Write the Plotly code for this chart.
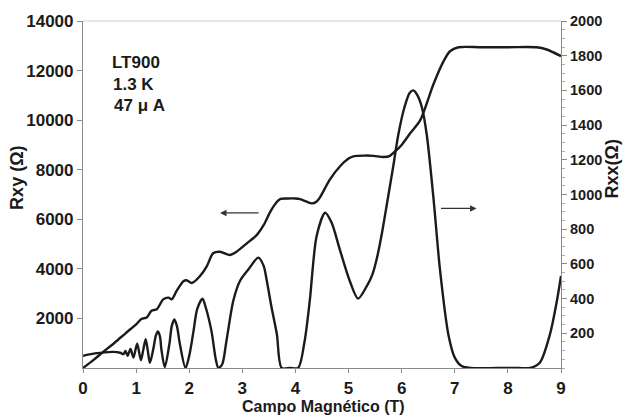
import plotly.graph_objects as go

# Hall resistance Rxy (left axis)
b_xy = [0, 0.2, 0.38, 0.6, 0.8, 1.01, 1.10, 1.2, 1.29, 1.39, 1.51, 1.61, 1.67, 1.76, 1.89,
        1.95, 2.05, 2.2, 2.33, 2.45, 2.58, 2.77, 2.89, 3.08, 3.27, 3.40, 3.52, 3.62, 3.72,
        3.85, 4.0, 4.09, 4.2, 4.31, 4.4, 4.46, 4.65, 4.84, 5.0, 5.09, 5.3, 5.47, 5.66,
        5.78, 5.84, 6.0, 6.16, 6.35, 6.6, 6.79, 6.91, 7.07, 7.5, 8.0, 8.54, 8.73, 9.0]
r_xy = [0, 330, 650, 1030, 1400, 1780, 1980, 2040, 2310, 2370, 2770, 2840, 2770, 3100, 3500,
        3540, 3430, 3700, 4100, 4630, 4690, 4560, 4690, 5020, 5360, 5760, 6280, 6620, 6820,
        6840, 6840, 6810, 6720, 6640, 6720, 6880, 7610, 8140, 8450, 8540, 8570, 8560, 8510,
        8560, 8670, 9000, 9470, 10000, 11460, 12380, 12780, 12940, 12940, 12940, 12940, 12850, 12580]

# Longitudinal resistance Rxx (right axis)
b_xx = [0, 0.15, 0.32, 0.57, 0.70, 0.76, 0.80, 0.84, 0.895, 0.95, 1.02, 1.09, 1.135, 1.18,
        1.22, 1.26, 1.33, 1.37, 1.41, 1.45, 1.475, 1.54, 1.63, 1.67, 1.72, 1.77, 1.82, 1.93,
        2.00, 2.08, 2.15, 2.25, 2.31, 2.42, 2.50, 2.55, 2.62, 2.70, 2.83, 2.96, 3.12, 3.30,
        3.40, 3.46, 3.55, 3.65, 3.74, 3.90, 4.05, 4.17, 4.27, 4.40, 4.56, 4.68, 4.84, 5.03,
        5.18, 5.34, 5.45, 5.53, 5.63, 5.73, 5.84, 5.94, 6.05, 6.15, 6.22, 6.30, 6.38, 6.47,
        6.60, 6.72, 6.88, 7.00, 7.13, 7.30, 7.80, 8.20, 8.42, 8.60, 8.79, 8.92, 9.0]
r_xx = [70, 80, 87, 93, 88, 80, 98, 70, 110, 60, 140, 45, 105, 166,
        100, 30, 120, 185, 211, 180, 110, 5, 145, 240, 280, 240, 145, 0,
        70, 211, 340, 400, 350, 211, 50, 0, 20, 154, 388, 504, 570, 636,
        590, 504, 350, 195, 0, 0, 0, 150, 388, 762, 895, 838, 678, 496,
        400, 470, 540, 628, 780, 960, 1160, 1350, 1500, 1585, 1600, 1570, 1503, 1350,
        975, 571, 192, 60, 11, 0, 0, 0, 0, 30, 192, 382, 530]

x_ticks = list(range(0, 10))
xy_ticks = [2000, 4000, 6000, 8000, 10000, 12000, 14000]
xx_ticks = [200, 400, 600, 800, 1000, 1200, 1400, 1600, 1800, 2000]

FONT = "Liberation Sans, Arial, sans-serif"
INK = "#1b1b1b"
AX = "#8a8a8a"

fig = go.Figure()
fig.add_trace(go.Scatter(x=b_xy, y=r_xy, mode="lines", yaxis="y",
                         line=dict(color=INK, width=2.4, shape="spline", smoothing=0.8),
                         showlegend=False, hoverinfo="skip"))
fig.add_trace(go.Scatter(x=b_xx, y=r_xx, mode="lines", yaxis="y2",
                         line=dict(color=INK, width=2.4, shape="spline", smoothing=0.8),
                         showlegend=False, hoverinfo="skip"))

tf_big = dict(size=17, family=FONT, color=INK, weight="bold")
tf_small = dict(size=14.5, family=FONT, color=INK, weight="bold")

fig.update_layout(
    width=623, height=418,
    margin=dict(l=83, r=62, t=16, b=50),
    paper_bgcolor="white", plot_bgcolor="white",
    font=dict(family=FONT, color=INK),
    xaxis=dict(range=[0, 9], tickvals=x_ticks, ticktext=[str(v) for v in x_ticks],
               ticks="outside", ticklen=4, tickcolor=AX,
               showline=True, linecolor=AX, linewidth=1.2, showgrid=False, zeroline=False,
               tickfont=tf_big),
    yaxis=dict(range=[0, 14000], tickvals=xy_ticks, ticktext=[str(v) for v in xy_ticks],
               ticks="outside", ticklen=5, tickcolor=AX,
               showline=True, linecolor=AX, linewidth=1.2, showgrid=False, zeroline=False,
               tickfont=tf_big),
    yaxis2=dict(range=[0, 2000], tickvals=xx_ticks, ticktext=[str(v) for v in xx_ticks],
                overlaying="y", side="right",
                ticks="outside", ticklen=5, tickcolor=AX,
                minor=dict(dtick=50, ticks="outside", ticklen=3, tickcolor="#aaaaaa"),
                showline=True, linecolor=AX, linewidth=1.2, showgrid=False, zeroline=False,
                tickfont=tf_small),
)

# top border
fig.add_shape(type="line", xref="paper", yref="paper", x0=0, x1=1, y0=1, y1=1,
              line=dict(color="#cfcfcf", width=1))

ann_font = dict(size=17, family=FONT, color=INK, weight="bold")
for txt, xp, yp in [("LT900", 0.0565, 0.881), ("1.3 K", 0.0586, 0.818), ("47 μ A", 0.0607, 0.756)]:
    fig.add_annotation(text=txt, xref="paper", yref="paper", x=xp, y=yp,
                       xanchor="left", yanchor="middle", showarrow=False, font=ann_font)

# axis titles
title_font = dict(size=18, family=FONT, color=INK, weight="bold")
fig.add_annotation(text="Rxy (Ω)", xref="paper", yref="paper", x=-0.138, y=0.548,
                   xanchor="center", yanchor="middle",
                   textangle=-90, showarrow=False, font=title_font)
fig.add_annotation(text="Rxx(Ω)", xref="paper", yref="paper", x=1.106, y=0.574,
                   xanchor="center", yanchor="middle",
                   textangle=-90, showarrow=False, font=title_font)
fig.add_annotation(text="Campo Magnético (T)", xref="paper", yref="paper", x=0.504, y=-0.11,
                   xanchor="center", yanchor="middle",
                   showarrow=False, font=dict(size=16, family=FONT, color=INK, weight="bold"))

# arrows
fig.add_annotation(x=2.58, y=0.447, xref="x", yref="paper", ax=40, ay=0, text="",
                   showarrow=True, arrowhead=2, arrowsize=1, arrowwidth=1.3, arrowcolor="#333")
fig.add_annotation(x=7.41, y=0.460, xref="x", yref="paper", ax=-37, ay=0, text="",
                   showarrow=True, arrowhead=2, arrowsize=1, arrowwidth=1.3, arrowcolor="#333")

fig.write_html("out.html")
